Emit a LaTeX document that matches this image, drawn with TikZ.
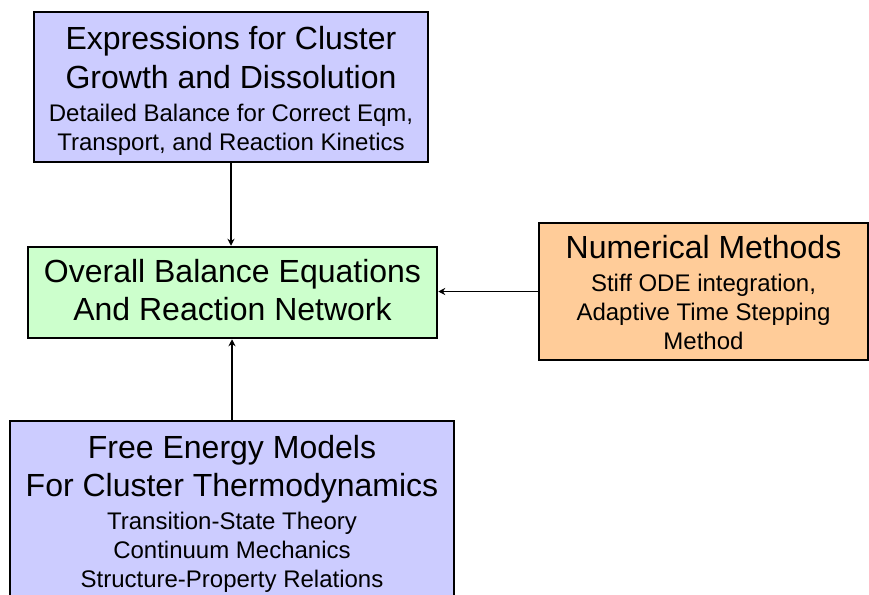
\documentclass[tikz,border=0pt]{standalone}
\usepackage{fontspec}
\setmainfont{Liberation Sans}
\usetikzlibrary{arrows.meta}
\definecolor{lavender}{HTML}{CCCCFF}
\definecolor{mint}{HTML}{CCFFCC}
\definecolor{peach}{HTML}{FFCC99}
% box text: lines are stacked by their struts only
\newcommand\boxfont{\fontsize{24}{0}\selectfont\setlength\lineskip{0pt}\setlength\lineskiplimit{0pt}\relax}
% heading line (large, optional extra room above) and detail line (small), each with a fixed strut
\newcommand\mkhead[2][0pt]{{\fontsize{32}{0}\selectfont\rule[-12pt]{0pt}{\dimexpr38.4pt+#1\relax}#2}}
\newcommand\mksub[1]{\rule[-8pt]{0pt}{29pt}#1}
\tikzset{
  box/.style={draw=black, line width=2.5pt, inner sep=0pt, align=center, font=\boxfont},
  link/.style={line width=1.6pt, -{Stealth[length=7pt,width=7pt]}}
}
\begin{document}
\begin{tikzpicture}[x=1pt,y=-1pt]
\clip (0,0) rectangle (869,594);
\fill[white] (0,0) rectangle (869,594);

\node[box, fill=lavender, minimum width=394pt, minimum height=150pt] (growth) at (231,87)
  {\mkhead[7.6pt]{Expressions for Cluster}\\ \mkhead{Growth and Dissolution}\\
   \mksub{Detailed Balance for Correct Eqm,}\\ \mksub{Transport, and Reaction Kinetics}};

\node[box, fill=mint, minimum width=409pt, minimum height=91pt] (balance) at (232.5,292.5)
  {\mkhead[3.6pt]{Overall Balance Equations}\\ \mkhead{And Reaction Network}};

\node[box, fill=peach, minimum width=329pt, minimum height=137pt] (numeric) at (703.5,291.5)
  {\mkhead[6.6pt]{Numerical Methods}\\ \mksub{Stiff ODE integration,}\\
   \mksub{Adaptive Time Stepping}\\ \mksub{Method}};

\node[box, fill=lavender, minimum width=444pt, minimum height=183pt] (energy) at (232,512.5)
  {\mkhead[3pt]{Free Energy Models}\\ \mkhead{For Cluster Thermodynamics}\\
   \mksub{Transition-State Theory}\\ \mksub{Continuum Mechanics}\\
   \mksub{Structure-Property Relations}};

\draw[link] (growth.south) -- (growth.south |- balance.north);
\draw[link] (energy.north) -- (energy.north |- balance.south);
\draw[link] (numeric.west) -- (numeric.west -| balance.east);
\end{tikzpicture}
\end{document}
